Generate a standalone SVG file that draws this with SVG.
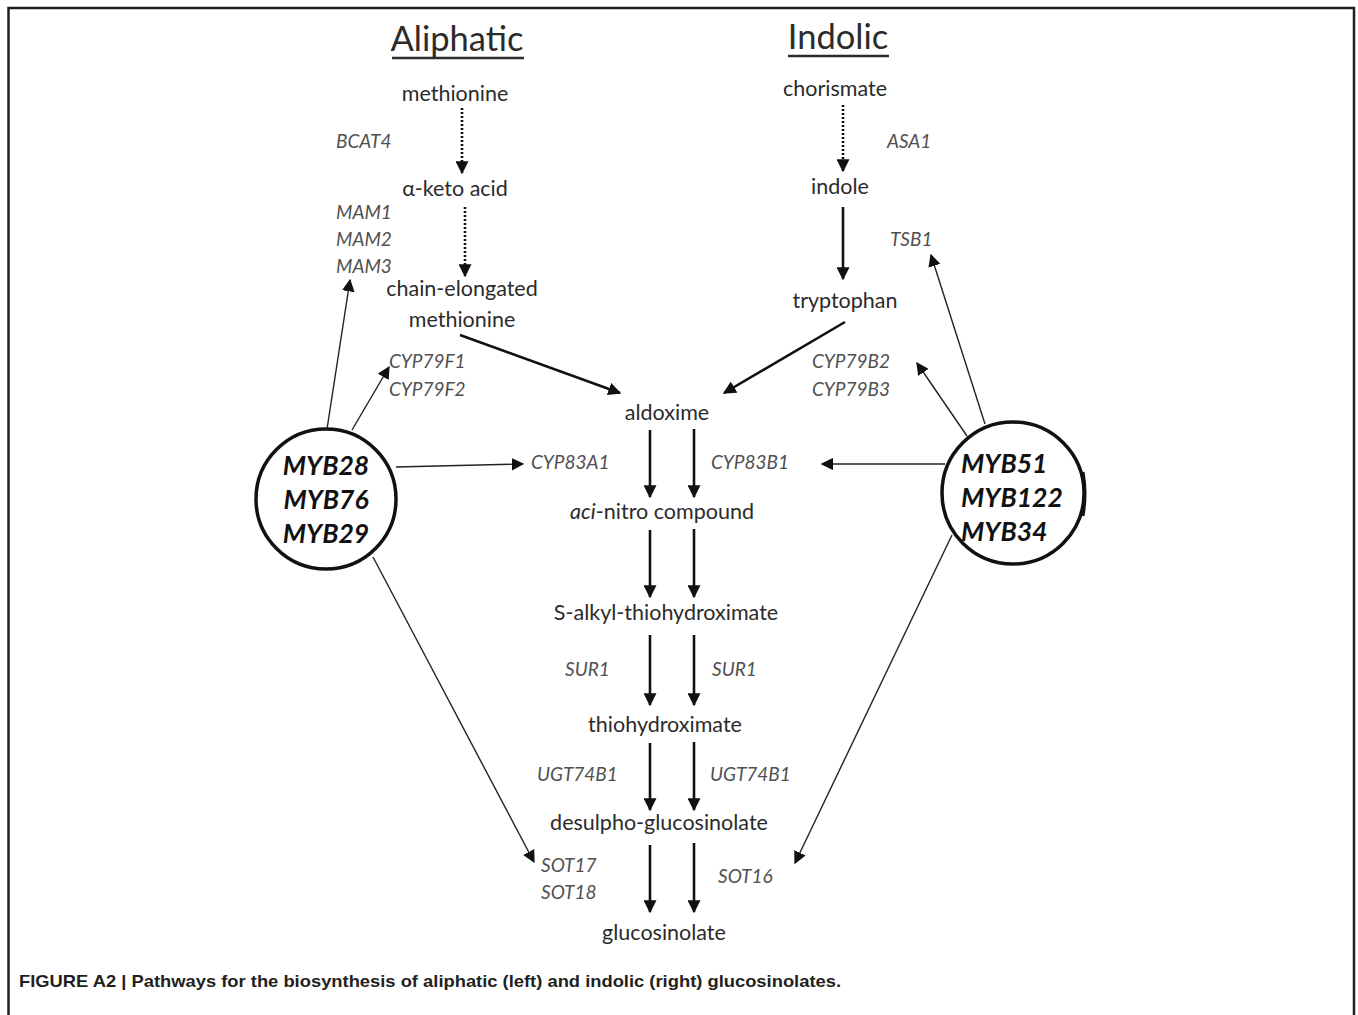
<svg xmlns="http://www.w3.org/2000/svg" width="1358" height="1015" viewBox="0 0 1358 1015">
<defs>
<style>
.t{font-family:Lato,"Open Sans","Liberation Sans",sans-serif;font-size:21.5px;fill:#2b2b2b;text-anchor:middle}
.h{font-family:Lato,"Open Sans","Liberation Sans",sans-serif;font-size:34.5px;fill:#2b2b2b;text-anchor:middle}
.g{font-family:Lato,"Open Sans","Liberation Sans",sans-serif;font-size:19px;font-style:italic;fill:#505050}
.m{font-family:Lato,"Open Sans","Liberation Sans",sans-serif;font-size:26.5px;font-style:italic;font-weight:bold;fill:#111}
.cap{font-family:"Liberation Sans Narrow","Liberation Sans",sans-serif;font-size:17px;font-weight:bold;fill:#231f20}
.thick{stroke:#111;stroke-width:2.6;fill:none}
.thin{stroke:#222;stroke-width:1.4;fill:none}
.dot{stroke:#111;stroke-width:2.6;stroke-dasharray:2 2;fill:none}
</style>
<marker id="ah" viewBox="0 0 10 10" refX="9" refY="5" markerWidth="5" markerHeight="5" markerUnits="strokeWidth" orient="auto">
<path d="M0,0 L10,5 L0,10 z" fill="#111"/>
</marker>
<marker id="ahs" viewBox="0 0 10 10" refX="9" refY="5" markerWidth="9" markerHeight="9" markerUnits="strokeWidth" orient="auto">
<path d="M0,0 L10,5 L0,10 z" fill="#111"/>
</marker>
</defs>
<rect width="1358" height="1015" fill="#fff"/>
<path d="M8.5,1015 V8 H1354 V1015" stroke="#231f20" stroke-width="2.5" fill="none"/>

<g id="headers">
<text class="h" x="457" y="51">Aliphatic</text>
<line x1="392" y1="58" x2="524" y2="58" stroke="#2b2b2b" stroke-width="2.5"/>
<text class="h" x="838" y="49">Indolic</text>
<line x1="788" y1="56" x2="889" y2="56" stroke="#2b2b2b" stroke-width="2.5"/>
</g>

<g id="methionine"><text class="t" x="455" y="101">methionine</text></g>
<g id="ketoacid"><text class="t" x="455" y="196">α-keto acid</text></g>
<g id="chain"><text class="t" x="462" y="296">chain-elongated</text><text class="t" x="462" y="327">methionine</text></g>
<g id="chorismate"><text class="t" x="835" y="96">chorismate</text></g>
<g id="indole"><text class="t" x="840" y="194">indole</text></g>
<g id="tryptophan"><text class="t" x="845" y="308">tryptophan</text></g>
<g id="aldoxime"><text class="t" x="667" y="420">aldoxime</text></g>
<g id="acinitro"><text class="t" x="662" y="519"><tspan font-style="italic">aci</tspan>-nitro compound</text></g>
<g id="salkyl"><text class="t" x="666" y="620">S-alkyl-thiohydroximate</text></g>
<g id="thio"><text class="t" x="665" y="732">thiohydroximate</text></g>
<g id="desulpho"><text class="t" x="659" y="830">desulpho-glucosinolate</text></g>
<g id="gluco"><text class="t" x="664" y="940">glucosinolate</text></g>

<g id="genes">
<text class="g" x="336" y="148">BCAT4</text>
<text class="g" x="336" y="219">MAM1</text>
<text class="g" x="336" y="246">MAM2</text>
<text class="g" x="336" y="273">MAM3</text>
<text class="g" x="887" y="148">ASA1</text>
<text class="g" x="890" y="246">TSB1</text>
<text class="g" x="389" y="368">CYP79F1</text>
<text class="g" x="389" y="396">CYP79F2</text>
<text class="g" x="812" y="368">CYP79B2</text>
<text class="g" x="812" y="396">CYP79B3</text>
<text class="g" x="531" y="469">CYP83A1</text>
<text class="g" x="711" y="469">CYP83B1</text>
<text class="g" x="565" y="676">SUR1</text>
<text class="g" x="712" y="676">SUR1</text>
<text class="g" x="537" y="781">UGT74B1</text>
<text class="g" x="710" y="781">UGT74B1</text>
<text class="g" x="541" y="872">SOT17</text>
<text class="g" x="541" y="899">SOT18</text>
<text class="g" x="718" y="883">SOT16</text>
</g>

<g id="myb-aliphatic">
<circle cx="326" cy="499" r="70" fill="none" stroke="#111" stroke-width="3.5"/>
<text class="m" x="326" y="475" text-anchor="middle">MYB28</text>
<text class="m" x="326" y="509" text-anchor="middle">MYB76</text>
<text class="m" x="326" y="543" text-anchor="middle">MYB29</text>
</g>
<g id="myb-indolic">
<circle cx="1013" cy="493" r="71" fill="none" stroke="#111" stroke-width="3.5"/>
<path d="M1083,472 Q1087,493 1083,516" stroke="#111" stroke-width="3" fill="none"/>
<text class="m" x="961" y="473">MYB51</text>
<text class="m" x="961" y="507">MYB122</text>
<text class="m" x="961" y="541">MYB34</text>
</g>

<g id="connectors">
<line class="dot" x1="462" y1="108" x2="462" y2="173" marker-end="url(#ah)"/>
<line class="dot" x1="465" y1="207" x2="465" y2="276" marker-end="url(#ah)"/>
<line class="dot" x1="843" y1="105" x2="843" y2="171" marker-end="url(#ah)"/>
<line class="thick" x1="843" y1="207" x2="843" y2="279" marker-end="url(#ah)"/>
<line class="thick" x1="460" y1="335" x2="620" y2="393" marker-end="url(#ah)"/>
<line class="thick" x1="845" y1="322" x2="724" y2="393" marker-end="url(#ah)"/>

<line class="thick" x1="650" y1="430" x2="650" y2="497" marker-end="url(#ah)"/>
<line class="thick" x1="694" y1="429" x2="694" y2="497" marker-end="url(#ah)"/>
<line class="thick" x1="650" y1="530" x2="650" y2="597" marker-end="url(#ah)"/>
<line class="thick" x1="694" y1="529" x2="694" y2="597" marker-end="url(#ah)"/>
<line class="thick" x1="650" y1="635" x2="650" y2="705" marker-end="url(#ah)"/>
<line class="thick" x1="694" y1="635" x2="694" y2="705" marker-end="url(#ah)"/>
<line class="thick" x1="650" y1="743" x2="650" y2="810" marker-end="url(#ah)"/>
<line class="thick" x1="694" y1="742" x2="694" y2="810" marker-end="url(#ah)"/>
<line class="thick" x1="650" y1="845" x2="650" y2="912" marker-end="url(#ah)"/>
<line class="thick" x1="694" y1="843" x2="694" y2="912" marker-end="url(#ah)"/>

<line class="thin" x1="327" y1="429" x2="350" y2="280" marker-end="url(#ahs)"/>
<line class="thin" x1="352" y1="430" x2="389" y2="367" marker-end="url(#ahs)"/>
<line class="thin" x1="396" y1="467" x2="523" y2="464" marker-end="url(#ahs)"/>
<line class="thin" x1="373" y1="557" x2="534" y2="862" marker-end="url(#ahs)"/>
<line class="thin" x1="985" y1="424" x2="931" y2="255" marker-end="url(#ahs)"/>
<line class="thin" x1="967" y1="436" x2="917" y2="363" marker-end="url(#ahs)"/>
<line class="thin" x1="945" y1="464" x2="822" y2="464" marker-end="url(#ahs)"/>
<line class="thin" x1="952" y1="535" x2="795" y2="863" marker-end="url(#ahs)"/>
</g>

<g id="caption">
<text class="cap" x="19" y="987" textLength="822" lengthAdjust="spacingAndGlyphs">FIGURE A2 | Pathways for the biosynthesis of aliphatic (left) and indolic (right) glucosinolates.</text>
</g>
</svg>
